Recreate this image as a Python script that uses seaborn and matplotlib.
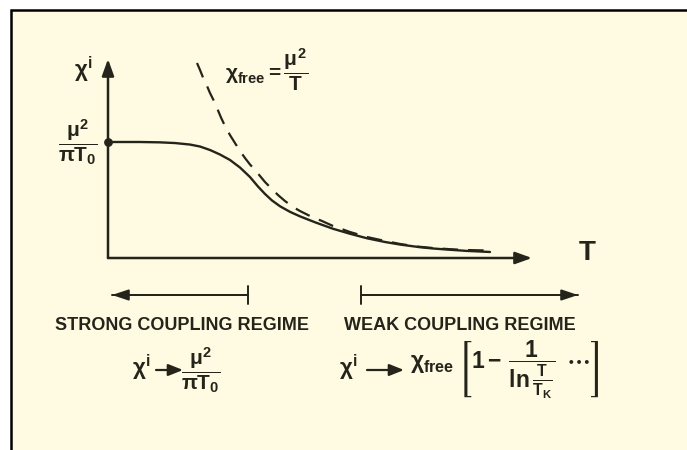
import matplotlib
matplotlib.use("Agg")
import matplotlib.pyplot as plt
import seaborn as sns
import pandas as pd
from matplotlib.patches import Rectangle

# Susceptibility of the impurity spin vs temperature (schematic units:
# T in arbitrary units, chi in units of mu^2 / (pi T0)).
T_full = [0.000, 0.283, 0.755, 1.226, 1.580, 1.934, 2.170, 2.406, 2.642,
          2.877, 3.113, 3.349, 3.538, 3.703, 3.868, 4.057, 4.292, 4.528,
          4.882, 5.307, 5.708, 6.108, 6.533, 6.887, 7.358, 7.665, 8.066,
          8.467, 9.009]
chi_full = [1.000, 1.000, 1.000, 0.997, 0.991, 0.978, 0.961, 0.931, 0.892,
            0.845, 0.780, 0.698, 0.616, 0.552, 0.496, 0.446, 0.398, 0.359,
            0.308, 0.252, 0.209, 0.170, 0.138, 0.116, 0.093, 0.082, 0.071,
            0.061, 0.052]

# Free-spin Curie law chi_free = mu^2 / T
T_free = [2.099, 2.170, 2.241, 2.335, 2.406, 2.500, 2.571, 2.665, 2.759,
          2.877, 2.995, 3.113, 3.231, 3.349, 3.467, 3.585, 3.703, 3.844,
          4.009, 4.175, 4.363, 4.528, 4.764, 5.047, 5.307, 5.708, 6.108,
          6.533, 6.887, 7.288, 7.665, 8.066, 8.420, 8.939]
chi_free = [1.681, 1.621, 1.556, 1.483, 1.422, 1.353, 1.293, 1.211, 1.138,
            1.060, 0.991, 0.922, 0.862, 0.806, 0.759, 0.707, 0.655, 0.603,
            0.543, 0.491, 0.440, 0.405, 0.362, 0.319, 0.276, 0.224, 0.181,
            0.147, 0.121, 0.099, 0.086, 0.076, 0.069, 0.065]

x_label = "T"
y_label = r"$\chi^{\mathrm{i}}$"
plateau_label = r"$\dfrac{\mu^2}{\pi T_0}$"
free_label = r"$\chi_{\mathrm{free}}{=}\dfrac{\mu^2}{T}$"
regime_labels = ["STRONG COUPLING REGIME", "WEAK COUPLING REGIME"]
limit_lhs = r"$\chi^{\mathrm{i}}$"
strong_rhs = r"$\dfrac{\mu^2}{\pi T_0}$"
weak_rhs = (r"$\chi_{\mathrm{free}}\;\left[1-\,\dfrac{1}{\ln\frac{T}{T_K}}"
            r"\;\;\cdots\right]$")

sns.set_theme(style="white")
plt.rcParams.update({
    "font.family": ["Liberation Sans", "DejaVu Sans"],
    "font.weight": "bold",
    "mathtext.fontset": "custom",
    "mathtext.rm": "Liberation Sans:bold",
    "mathtext.it": "Liberation Sans:bold",
    "mathtext.bf": "Liberation Sans:bold",
    "mathtext.sf": "Liberation Sans:bold",
    "mathtext.fallback": "stixsans",
})

INK = "#24241a"
PAPER = "#fefbe2"

fig = plt.figure(figsize=(6.87, 4.5), dpi=100, facecolor="white")

# Full-figure canvas in pixel units for the frame and lettering
canvas = fig.add_axes([0, 0, 1, 1])
canvas.set_xlim(0, 687)
canvas.set_ylim(450, 0)
canvas.axis("off")
canvas.add_patch(Rectangle((11, 10), 700, 460, facecolor=PAPER,
                           edgecolor="black", lw=1.8, clip_on=False))

# Plot area: origin of the T / chi axes
ax = fig.add_axes([108 / 687, 192 / 450, 424 / 687, 199 / 450])
ax.set_xlim(0, 10)
ax.set_ylim(0, 199 / 116)
ax.axis("off")

arrow_kw = dict(arrowstyle="-|>,head_length=1.0,head_width=0.36",
                mutation_scale=10, color=INK, lw=1.8,
                shrinkA=0, shrinkB=0)
ax.annotate("", xy=(0, 1), xycoords="axes fraction", xytext=(0, 0),
            textcoords="axes fraction", arrowprops=arrow_kw,
            annotation_clip=False)
ax.annotate("", xy=(1, 0), xycoords="axes fraction", xytext=(0, 0),
            textcoords="axes fraction", arrowprops=arrow_kw,
            annotation_clip=False)

df_full = pd.DataFrame({"T": T_full, "chi": chi_full})
df_free = pd.DataFrame({"T": T_free, "chi": chi_free})
sns.lineplot(data=df_full, x="T", y="chi", ax=ax, color=INK, lw=1.7,
             sort=False, estimator=None, solid_joinstyle="round")
sns.lineplot(data=df_free, x="T", y="chi", ax=ax, color=INK, lw=1.6,
             sort=False, estimator=None, linestyle=(0, (7, 4.5)))
ax.scatter(T_full[:1], chi_full[:1], s=28, color=INK, zorder=5,
           clip_on=False)

# Axis lettering
canvas.text(84, 70, y_label, fontsize=16, color=INK, ha="center",
            va="center")
canvas.text(587, 253, x_label, fontsize=20, color=INK, ha="center",
            va="center")
canvas.text(78, 142, plateau_label, fontsize=15, color=INK, ha="center",
            va="center")
canvas.text(225, 70, free_label, fontsize=15, color=INK, ha="left",
            va="center")

# Regime ranges
bar_kw = dict(arrowstyle="|-|,widthA=0,widthB=0.45", mutation_scale=14,
              color=INK, lw=1.4, shrinkA=0, shrinkB=0)
head_kw = dict(arrowstyle="-|>,head_length=0.9,head_width=0.3",
               mutation_scale=11, color=INK, lw=1.4, shrinkA=0, shrinkB=0)
for tail, tip in [((248, 295), (112, 295)), ((361, 295), (578, 295))]:
    canvas.annotate("", xy=tip, xytext=tail, arrowprops=head_kw)
    canvas.annotate("", xy=tail, xytext=tip, arrowprops=bar_kw)

canvas.text(182, 325, regime_labels[0], fontsize=13, color=INK,
            ha="center", va="center")
canvas.text(460, 325, regime_labels[1], fontsize=13, color=INK,
            ha="center", va="center")

# Limiting forms in each regime
limit_arrow = dict(arrowstyle="-|>,head_length=0.8,head_width=0.32",
                   mutation_scale=11, color=INK, lw=1.6, shrinkA=0,
                   shrinkB=0)
canvas.text(132, 368, limit_lhs, fontsize=16, color=INK, ha="left",
            va="center")
canvas.annotate("", xy=(183, 370), xytext=(156, 370),
                arrowprops=limit_arrow)
canvas.text(201, 370, strong_rhs, fontsize=15, color=INK, ha="center",
            va="center")

canvas.text(339, 368, limit_lhs, fontsize=16, color=INK, ha="left",
            va="center")
canvas.annotate("", xy=(404, 370), xytext=(367, 370),
                arrowprops=limit_arrow)
canvas.text(410, 370, weak_rhs, fontsize=16.5, color=INK, ha="left",
            va="center")

fig.savefig("out.png", dpi=100, facecolor="white")
